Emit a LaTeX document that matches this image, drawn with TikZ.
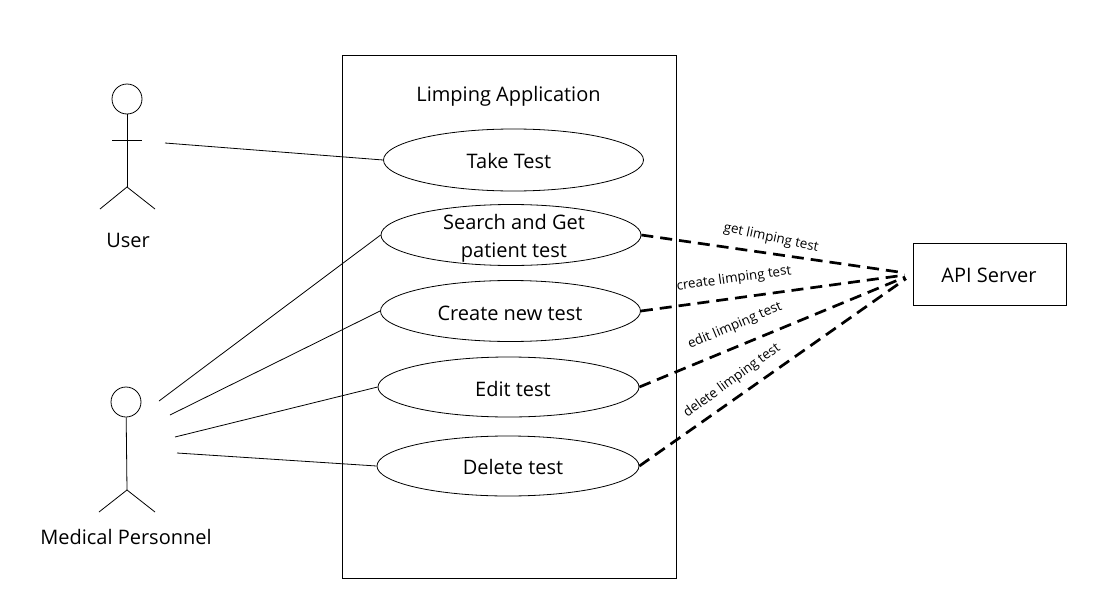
\documentclass[tikz,border=0pt]{standalone}
\usepackage{fontspec}
\setmainfont{Open Sans}
\usetikzlibrary{positioning, shapes.geometric}

\tikzset{
    usecase/.style={draw, ellipse, inner sep=0pt},
    plainlabel/.style={font=\fontsize{20}{28}\selectfont, align=center},
    msglabel/.style={font=\fontsize{13.4}{16}\selectfont},
    actorhead/.style={draw, circle, minimum size=30pt, inner sep=0pt},
    assoc/.style={line width=0.8pt},
    apicall/.style={line width=2.7pt, dash pattern=on 12pt off 7pt, shorten >=8pt},
}

\begin{document}
\begin{tikzpicture}[x=1pt, y=-1pt, line width=0.8pt]

    \useasboundingbox (0, 0) rectangle (1095, 605);

    % -------------------------------------------------------------
    % SYSTEM BOUNDARY
    % -------------------------------------------------------------
    \node[draw, minimum width=334pt, minimum height=523pt, inner sep=0pt] (system) at (509, 316.5) {};
    \node[plainlabel] (title) at (508.5, 96.5) {Limping Application};

    % Use cases
    \node[usecase, minimum width=260pt, minimum height=62pt] (taketest) at (513.5, 160) {};
    \node[usecase, minimum width=260pt, minimum height=61pt] (searchtest) at (511, 235) {};
    \node[usecase, minimum width=260pt, minimum height=61pt] (createtest) at (510.5, 311) {};
    \node[usecase, minimum width=261pt, minimum height=60pt] (edittest) at (508.5, 387) {};
    \node[usecase, minimum width=262pt, minimum height=60pt] (deletetest) at (508, 466) {};

    \node[plainlabel] (taketext) at (509, 160.5) {Take Test};
    \node[plainlabel] (searchtext) at (514, 238) {Search and Get\\patient test};
    \node[plainlabel] (createtext) at (510, 313.5) {Create new test};
    \node[plainlabel] (edittext) at (513, 388.5) {Edit test};
    \node[plainlabel] (deletetext) at (513, 466.5) {Delete test};

    % -------------------------------------------------------------
    % ACTORS
    % -------------------------------------------------------------

    % User
    \node[actorhead] (userhead) at (127, 99) {};
    \coordinate (userhip) at (127, 187);
    \draw (userhead) -- (userhip);
    \draw (112, 140) -- (142, 140);
    \draw (100, 209) -- (userhip) -- (155, 209);
    \node[plainlabel] (user) at (128, 240) {User};

    % Medical Personnel
    \node[actorhead] (medhead) at (126, 402) {};
    \coordinate (medhip) at (127, 490);
    \draw (medhead) -- (medhip);
    \draw (99, 512) -- (medhip) -- (155, 512);
    \node[plainlabel] (medical) at (126, 536.5) {Medical Personnel};

    % Free ends of the associations
    \coordinate (userend) at (165, 143);
    \coordinate (medend1) at (159, 401);
    \coordinate (medend2) at (170, 415);
    \coordinate (medend3) at (175, 437);
    \coordinate (medend4) at (177, 453);

    \draw[assoc] (userend) -- (taketest.west);
    \draw[assoc] (medend1) -- (searchtest.west);
    \draw[assoc] (medend2) -- (createtest.west);
    \draw[assoc] (medend3) -- (edittest.west);
    \draw[assoc] (medend4) -- (deletetest.west);

    % -------------------------------------------------------------
    % API SERVER
    % -------------------------------------------------------------
    \node[draw, minimum width=153pt, minimum height=62pt, inner sep=0pt, plainlabel] (api) at (989.5, 274) {};
    \node[plainlabel] (apitext) at (989, 275.5) {API Server};

    \draw[apicall] (searchtest.east) -- (api.west);
    \draw[apicall] (createtest.east) -- (api.west);
    \draw[apicall] (edittest.east) -- (api.west);
    \draw[apicall] (deletetest.east) -- (api.west);

    % Labels for the calls
    \node[msglabel, rotate=-12] (getlabel) at (771, 238) {get limping test};
    \node[msglabel, rotate=8] (createlabel) at (734, 279) {create limping test};
    \node[msglabel, rotate=23] (editlabel) at (735, 326) {edit limping test};
    \node[msglabel, rotate=36] (deletelabel) at (732, 381) {delete limping test};

\end{tikzpicture}
\end{document}
